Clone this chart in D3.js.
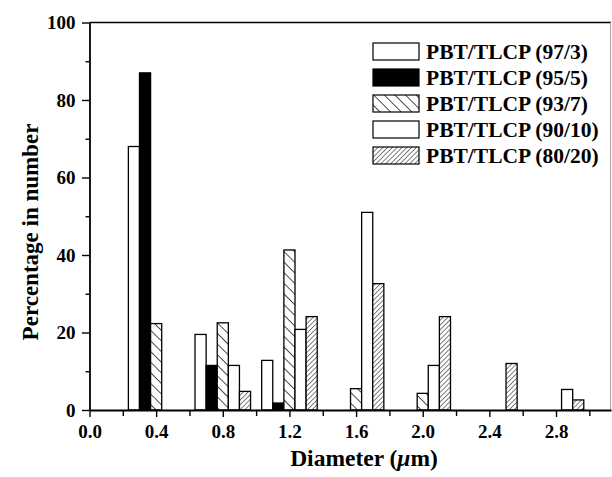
<!DOCTYPE html>
<html>
<head>
<meta charset="utf-8">
<script src="https://cdn.jsdelivr.net/npm/d3@7"></script>
<style>
  body { margin: 0; background: #fff; }
  svg text { font-family: "Liberation Serif", "Times New Roman", serif; font-weight: bold; fill: #000; }
</style>
</head>
<body>
<div id="chart"></div>
<script>
// diameter classes (um) - centre of each group of bars
var categories = [0.4, 0.8, 1.2, 1.6, 2.0, 2.4, 2.8];
var seriesNames = ["PBT/TLCP (97/3)", "PBT/TLCP (95/5)", "PBT/TLCP (93/7)", "PBT/TLCP (90/10)", "PBT/TLCP (80/20)"];
var pbt97 = [68, 19.5, 12.8, 0, 0, 0, 0];
var pbt95 = [87, 11.5, 1.8, 0, 0, 0, 0];
var pbt93 = [22.3, 22.5, 41.3, 5.5, 4.3, 0, 0];
var pbt90 = [0, 11.5, 20.8, 51, 11.5, 0, 5.3];
var pbt80 = [0, 4.8, 24.1, 32.6, 24.1, 12, 2.6];
var xTicks = [0.0, 0.4, 0.8, 1.2, 1.6, 2.0, 2.4, 2.8];
var yTicks = [0, 20, 40, 60, 80, 100];

var seriesValues = [pbt97, pbt95, pbt93, pbt90, pbt80];
var fills = ["#fff", "#000", "url(#hatchBack)", "#fff", "url(#hatchFwd)"];

var width = 612, height = 477;
var margin = { left: 89.5, right: 1, top: 22.5, bottom: 67 };

var svg = d3.select("#chart").append("svg")
  .attr("width", width)
  .attr("height", height);

var defs = svg.append("defs");
defs.append("pattern")
  .attr("id", "hatchBack")
  .attr("patternUnits", "userSpaceOnUse")
  .attr("width", 7.5).attr("height", 7.5)
  .attr("patternTransform", "rotate(-45)")
  .call(function(p) {
    p.append("rect").attr("width", 7.5).attr("height", 7.5).attr("fill", "#fff");
    p.append("line").attr("x1", 0).attr("y1", 0).attr("x2", 0).attr("y2", 7.5)
      .attr("stroke", "#000").attr("stroke-width", 1.4);
  });
defs.append("pattern")
  .attr("id", "hatchFwd")
  .attr("patternUnits", "userSpaceOnUse")
  .attr("width", 3.4).attr("height", 3.4)
  .attr("patternTransform", "rotate(45)")
  .call(function(p) {
    p.append("rect").attr("width", 3.4).attr("height", 3.4).attr("fill", "#fff");
    p.append("line").attr("x1", 0).attr("y1", 0).attr("x2", 0).attr("y2", 3.4)
      .attr("stroke", "#000").attr("stroke-width", 1);
  });

var x = d3.scaleLinear().domain([0, 3.13]).range([margin.left, width - margin.right]);
var y = d3.scaleLinear().domain([0, 100]).range([height - margin.bottom, margin.top]);

// offset of each series inside a group, in diameter units
var inner = d3.scaleBand().domain(seriesNames).range([-0.4 * 2.5 / 6, 0.4 * 2.5 / 6]);

var bars = [];
seriesNames.forEach(function(name, si) {
  categories.forEach(function(c, ci) {
    var v = seriesValues[si][ci];
    if (v > 0) bars.push({ series: name, si: si, cat: c, value: v });
  });
});

svg.append("g").selectAll("rect")
  .data(bars)
  .enter()
  .append("rect")
  .attr("x", function(d) { return x(d.cat + inner(d.series)); })
  .attr("width", function(d) { return x(d.cat + inner(d.series) + inner.bandwidth()) - x(d.cat + inner(d.series)); })
  .attr("y", function(d) { return y(d.value); })
  .attr("height", function(d) { return y(0) - y(d.value); })
  .attr("fill", function(d) { return fills[d.si]; })
  .attr("stroke", "#000")
  .attr("stroke-width", 1.3);

// frame: top and right
svg.append("line")
  .attr("x1", x(0)).attr("x2", x(3.13)).attr("y1", y(100)).attr("y2", y(100))
  .attr("stroke", "#000").attr("stroke-width", 1.6);
svg.append("line")
  .attr("x1", x(3.13) - 0.5).attr("x2", x(3.13) - 0.5).attr("y1", y(100)).attr("y2", y(0))
  .attr("stroke", "#aaa").attr("stroke-width", 1);

// minor ticks
svg.append("g")
  .attr("transform", "translate(0," + y(0) + ")")
  .call(d3.axisBottom(x).tickValues([0.2, 0.6, 1.0, 1.4, 1.8, 2.2, 2.6, 3.0]).tickSize(6).tickFormat("").tickSizeOuter(0))
  .call(function(g) { g.select(".domain").remove(); g.selectAll("line").attr("stroke-width", 1.4); });
svg.append("g")
  .attr("transform", "translate(" + x(0) + ",0)")
  .call(d3.axisLeft(y).tickValues([10, 30, 50, 70, 90]).tickSize(4).tickFormat("").tickSizeOuter(0))
  .call(function(g) { g.select(".domain").remove(); g.selectAll("line").attr("stroke-width", 1.4); });

var xAxis = svg.append("g")
  .attr("transform", "translate(0," + y(0) + ")")
  .call(d3.axisBottom(x).tickValues(xTicks).tickSize(7).tickSizeOuter(0).tickPadding(8).tickFormat(d3.format(".1f")));
xAxis.select(".domain").attr("stroke-width", 1.8);
xAxis.selectAll("line").attr("stroke-width", 1.4);
xAxis.selectAll("text").attr("font-size", 19);

var yAxis = svg.append("g")
  .attr("transform", "translate(" + x(0) + ",0)")
  .call(d3.axisLeft(y).tickValues(yTicks).tickSize(7.5).tickSizeOuter(0).tickPadding(6.5));
yAxis.select(".domain").attr("stroke-width", 1.8);
yAxis.selectAll("line").attr("stroke-width", 1.4);
yAxis.selectAll("text").attr("font-size", 19);

// axis titles
svg.append("text")
  .attr("x", 364).attr("y", 466)
  .attr("text-anchor", "middle")
  .attr("font-size", 23.5)
  .text("Diameter (")
  .append("tspan").attr("font-style", "italic").text("\u03bc")
  .select(function() { return this.parentNode; })
  .append("tspan").text("m)");

svg.append("text")
  .attr("transform", "translate(38,232) rotate(-90)")
  .attr("text-anchor", "middle")
  .attr("font-size", 23)
  .text("Percentage in number");

// legend
var legend = svg.append("g").attr("transform", "translate(373,43)");
var rows = legend.selectAll("g")
  .data(seriesNames)
  .enter()
  .append("g")
  .attr("transform", function(d, i) { return "translate(0," + i * 26 + ")"; });
rows.append("rect")
  .attr("width", 46).attr("height", 17)
  .attr("fill", function(d, i) { return fills[i]; })
  .attr("stroke", "#000")
  .attr("stroke-width", 1.2);
rows.append("text")
  .attr("x", 53).attr("y", 16)
  .attr("font-size", 21.5)
  .text(function(d) { return d; });
</script>
</body>
</html>
